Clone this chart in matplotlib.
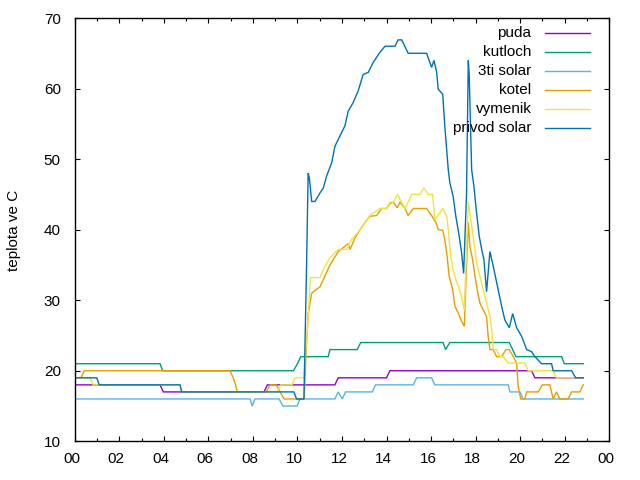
import matplotlib
matplotlib.use("Agg")
import matplotlib.pyplot as plt
from matplotlib.ticker import MultipleLocator
from matplotlib.transforms import ScaledTranslation

plt.rcParams['font.family'] = ['Liberation Sans', 'DejaVu Sans']

# ---- data (hours, deg C) ----
puda_t = [0, 3.83, 3.98, 8.5, 8.65, 11.68, 11.83, 14.0, 14.15, 20.51, 20.66, 22.83]
puda_v = [18, 18, 17, 17, 18, 18, 19, 19, 20, 20, 19, 19]

kutloch_t = [0, 3.83, 3.95, 9.82, 10.0, 10.15, 11.38, 11.46, 12.68, 12.84, 16.54, 16.65,
             16.84, 19.51, 19.66, 19.81, 21.86, 21.98, 22.83]
kutloch_v = [21, 21, 20, 20, 21, 22, 22, 23, 23, 24, 24, 23, 24, 24, 23, 22, 22, 21, 21]

solar3_t = [0, 7.87, 7.97, 8.09, 9.18, 9.34, 9.99, 10.11, 11.68, 11.83, 12.01, 12.16, 13.36,
            13.51, 15.2, 15.35, 16.02, 16.17, 19.46, 19.54, 19.99, 20.13, 22.83]
solar3_v = [16, 16, 15, 16, 16, 15, 15, 16, 16, 17, 16, 17, 17, 18, 18, 19, 19, 18, 18, 17,
            17, 16, 16]

kotel_t = [0, 0.28, 0.43, 6.97, 7.12, 7.22, 7.30, 8.6, 8.77, 9.05, 9.22, 9.4, 10.3, 10.38,
           10.48, 10.64, 11.01, 11.46, 11.83, 12.28, 12.36, 12.58, 12.81, 13.03, 13.25, 13.55,
           13.78, 14.0, 14.15, 14.3, 14.48, 14.6, 14.83, 14.97, 15.2, 15.8, 16.02, 16.22, 16.32,
           16.52, 16.62, 16.72, 16.81, 16.97, 17.07, 17.22, 17.37, 17.49, 17.59, 17.67, 17.74,
           17.86, 17.97, 18.07, 18.19, 18.34, 18.49, 18.56, 18.64, 18.79, 18.94, 19.17, 19.36,
           19.51, 19.69, 19.84, 19.91, 20.02, 20.21, 20.29, 20.81, 20.99, 21.33, 21.48, 21.63,
           21.78, 22.15, 22.31, 22.68, 22.83]
kotel_v = [19, 19, 20, 20, 19, 18, 17, 17, 18, 18, 17, 16, 16, 22,
           28, 31, 31.9, 35.0, 36.9, 38.0, 37.2, 38.8, 40.0, 41.0, 41.9, 42.0,
           43.0, 43.0, 43.7, 43.9, 43.1, 43.9, 43.0, 42.0, 43.0, 43.0, 42.0, 41.0, 40.0,
           39.9, 38.5, 36.2, 33.4, 31.5, 29.1, 28.2, 27.0, 26.3, 35.0, 41.0, 37.6,
           35.8, 33.4, 31.5, 29.6, 28.6, 27.7, 24.9, 23.0, 23.0, 22.0, 22.0, 23.0,
           23.0, 22.0, 21.1, 17.8, 16.0, 16.0, 17.0, 17.0, 18.0, 18.0, 16.0, 17.0,
           16.0, 16.0, 17.0, 17.0, 18.0]

vymenik_t = [0, 0.69, 0.83, 4.73, 4.80, 9.1, 9.25, 9.75, 9.89, 10.29, 10.45, 10.58, 11.01,
             11.23, 11.46, 11.83, 12.21, 12.43, 12.5, 12.81, 13.03, 13.25, 13.7, 14.0, 14.15,
             14.3, 14.5, 14.6, 14.83, 15.13, 15.5, 15.68, 15.87, 16.07, 16.17, 16.32, 16.52,
             16.7, 16.77, 16.88, 16.99, 17.11, 17.22, 17.37, 17.49, 17.67, 17.74, 17.89, 18.04,
             18.19, 18.34, 18.49, 18.64, 18.72, 18.79, 18.94, 19.09, 19.23, 19.46, 20.21,
             20.36, 21.48, 21.63, 22.83]
vymenik_v = [19, 19, 18, 18, 17, 17, 18, 18, 19, 19, 26, 33.2, 33.2,
             34.8, 36.0, 37.2, 37.2, 38.6, 38.8, 40.0, 41.0, 42.0, 43.0, 43.0, 43.9,
             43.9, 45.0, 44.3, 43.0, 45.0, 45.0, 45.9, 45.0, 45.0, 41.4, 42.1, 43.0,
             41.9, 40.0, 36.2, 34.3, 32.9, 32.0, 30.5, 28.6, 44.0, 42.4, 39.1, 35.3,
             33.4, 31.5, 29.6, 27.7, 25.8, 23.0, 23.0, 22.0, 22.0, 21.1, 21.1,
             20.0, 20.0, 19.0, 19.0]

privod_t = [0, 0.99, 1.10, 4.73, 4.80, 9.84, 9.96, 10.29, 10.41, 10.48, 10.53, 10.64, 10.79,
            11.01, 11.16, 11.31, 11.54, 11.68, 11.91, 12.13, 12.28, 12.5, 12.73, 12.95, 13.18,
            13.4, 13.67, 13.93, 14.38, 14.52, 14.68, 14.97, 15.8, 16.02, 16.13, 16.25, 16.32,
            16.52, 16.62, 16.77, 16.84, 16.99, 17.11, 17.26, 17.37, 17.46, 17.59, 17.67, 17.71,
            17.82, 17.92, 18.04, 18.16, 18.27, 18.37, 18.49, 18.64, 18.79, 19.01, 19.17, 19.31,
            19.51, 19.66, 19.84, 20.06, 20.29, 20.51, 20.66, 20.96, 21.41, 21.48, 22.31, 22.49,
            22.83]
privod_v = [19, 19, 18, 18, 17, 17, 16, 16, 35, 48, 47.4, 44, 44,
            45.2, 45.9, 47.6, 49.5, 51.8, 53.3, 54.7, 56.8, 58, 59.7, 62, 62.3,
            63.7, 65, 66, 66, 66.9, 66.9, 65, 65, 63, 64, 62.3, 59.9,
            59.2, 54.5, 48.5, 46.7, 44.7, 41.9, 39.1, 36.7, 33.8, 45, 64, 62,
            48.5, 46.2, 42.4, 39.1, 37.2, 35.8, 31.2, 36.9, 34.8, 31.5, 29.1, 27.2,
            26.1, 28.1, 26.1, 24.9, 23, 22.7, 22, 21, 21, 20, 20, 19,
            19]

names = ['puda', 'kutloch', '3ti solar', 'kotel', 'vymenik', 'privod solar']
colors = ['#9400d3', '#009e73', '#56b4e9', '#e69f00', '#f0e442', '#0072b2']
series = [(puda_t, puda_v), (kutloch_t, kutloch_v), (solar3_t, solar3_v),
          (kotel_t, kotel_v), (vymenik_t, vymenik_v), (privod_t, privod_v)]

xtick_pos = list(range(0, 25, 2))
xtick_lab = ['00', '02', '04', '06', '08', '10', '12', '14', '16', '18', '20', '22', '00']
ytick_pos = [10, 20, 30, 40, 50, 60, 70]

W, H = 640, 480
fig = plt.figure(figsize=(6.4, 4.8), dpi=100)
ax = fig.add_axes([74.7 / W, 1 - 441.3 / H, (609.3 - 74.7) / W, (441.3 - 18) / H])

for (t, v), c in zip(series, colors):
    ax.plot(t, v, color=c, lw=1.0, solid_joinstyle='miter')

ax.set_xlim(0, 24)
ax.set_ylim(10, 70)
ax.set_xticks(xtick_pos)
ax.set_xticklabels(xtick_lab)
ax.xaxis.set_minor_locator(MultipleLocator(1))
ax.set_yticks(ytick_pos)
ax.tick_params(axis='both', which='both', direction='in', top=True, right=True,
               labelsize=11, width=0.8, color='black')
ax.tick_params(axis='both', which='major', length=3.3)
ax.tick_params(axis='x', which='minor', length=2.0)
ax.tick_params(axis='x', which='major', pad=8)
ax.tick_params(axis='y', which='major', pad=10)
for s in ax.spines.values():
    s.set_linewidth(1.0)

# gnuplot draws x tick labels slightly left of their ticks
shift = ScaledTranslation(-3 / 100, 0, fig.dpi_scale_trans)
for lbl in ax.get_xticklabels():
    lbl.set_transform(lbl.get_transform() + shift)

fig.text(14 / W, 1 - 230 / H, 'teplota ve C', rotation=90, ha='center', va='center',
         fontsize=11)

# legend (gnuplot style: right-aligned text, sample to the right)
rows = [33.3, 52.3, 71.3, 90.3, 109.3, 128.0]
for name, c, yp in zip(names, colors, rows):
    fig.text(531.5 / W, 1 - yp / H, name, ha='right', va='center', fontsize=11)
    fig.add_artist(plt.Line2D([545 / W, 590 / W], [1 - yp / H, 1 - yp / H],
                              color=c, lw=1.0, transform=fig.transFigure))

fig.savefig('out.png', dpi=100)
